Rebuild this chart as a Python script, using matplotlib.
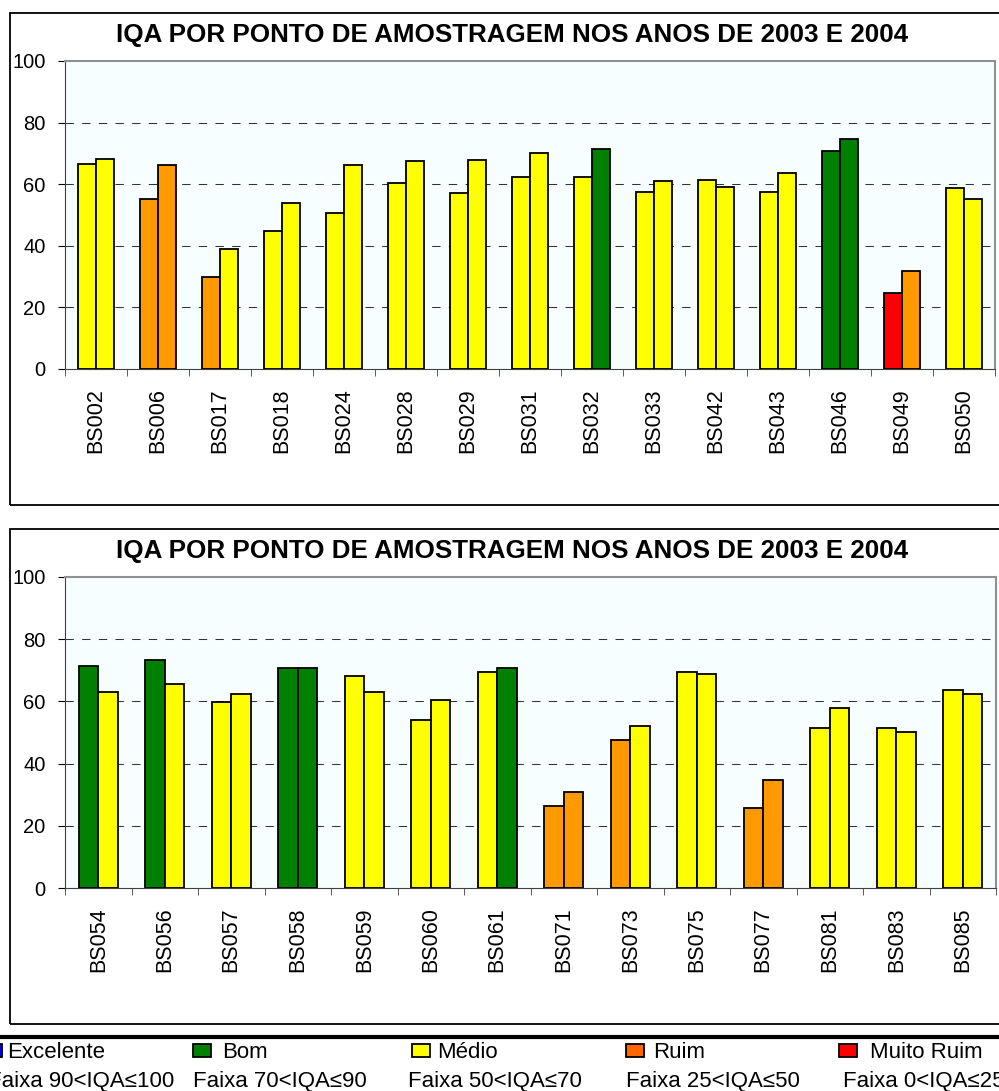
import matplotlib.pyplot as plt
from matplotlib.patches import Rectangle
from matplotlib.lines import Line2D

plt.rcParams['font.family'] = ['Liberation Sans', 'DejaVu Sans']

AMARELO = '#FFFF00'
VERDE = '#008000'
LARANJA = '#FF9900'
VERMELHO = '#FF0000'

# Grafico 1
pontos1 = ['BS002', 'BS006', 'BS017', 'BS018', 'BS024', 'BS028', 'BS029', 'BS031',
           'BS032', 'BS033', 'BS042', 'BS043', 'BS046', 'BS049', 'BS050']
iqa2003_1 = [66.7, 55.1, 29.8, 44.8, 50.6, 60.3, 57.1, 62.3, 62.3, 57.6, 61.5, 57.6, 70.7, 24.6, 58.9]
iqa2004_1 = [68.1, 66.3, 38.9, 53.8, 66.3, 67.5, 68.0, 70.1, 71.4, 61.0, 59.0, 63.6, 74.6, 31.7, 55.1]
cores2003_1 = [AMARELO, LARANJA, LARANJA, AMARELO, AMARELO, AMARELO, AMARELO, AMARELO,
               AMARELO, AMARELO, AMARELO, AMARELO, VERDE, VERMELHO, AMARELO]
cores2004_1 = [AMARELO, LARANJA, AMARELO, AMARELO, AMARELO, AMARELO, AMARELO, AMARELO,
               VERDE, AMARELO, AMARELO, AMARELO, VERDE, LARANJA, AMARELO]

# Grafico 2
pontos2 = ['BS054', 'BS056', 'BS057', 'BS058', 'BS059', 'BS060', 'BS061', 'BS071',
           'BS073', 'BS075', 'BS077', 'BS081', 'BS083', 'BS085']
iqa2003_2 = [71.5, 73.3, 59.8, 70.7, 68.3, 54.0, 69.3, 26.4, 47.6, 69.5, 25.7, 51.4, 51.4, 63.7]
iqa2004_2 = [63.0, 65.6, 62.4, 70.7, 63.0, 60.4, 70.6, 30.9, 52.1, 68.8, 34.7, 57.9, 50.1, 62.4]
cores2003_2 = [VERDE, VERDE, AMARELO, VERDE, AMARELO, AMARELO, AMARELO, LARANJA,
               LARANJA, AMARELO, LARANJA, AMARELO, AMARELO, AMARELO]
cores2004_2 = [AMARELO, AMARELO, AMARELO, VERDE, AMARELO, AMARELO, VERDE, LARANJA,
               AMARELO, AMARELO, LARANJA, AMARELO, AMARELO, AMARELO]

# Legenda
classes = ['Excelente', 'Bom', 'Médio', 'Ruim', 'Muito Ruim']
faixas = ['Faixa 90<IQA≤100', 'Faixa 70<IQA≤90', 'Faixa 50<IQA≤70',
          'Faixa 25<IQA≤50', 'Faixa 0<IQA≤25']
cores_legenda = ['#0000FF', VERDE, AMARELO, '#FF6600', VERMELHO]

titulo = 'IQA POR PONTO DE AMOSTRAGEM NOS ANOS DE 2003 E 2004'

W, H = 999, 1091
fig = plt.figure(figsize=(W / 100, H / 100), dpi=100)


def px(x0, y0, x1, y1):
    # caixa em pixels -> fracao da figura
    return [x0 / W, 1 - y1 / H, (x1 - x0) / W, (y1 - y0) / H]


def grafico(ax, pontos, v03, v04, c03, c04):
    n = len(pontos)
    xs = list(range(n))
    ax.set_facecolor('#F7FEFF')
    larg = 0.29
    ax.bar([x - larg / 2 for x in xs], v03, width=larg, color=c03,
           edgecolor='black', linewidth=1.3, zorder=3)
    ax.bar([x + larg / 2 for x in xs], v04, width=larg, color=c04,
           edgecolor='black', linewidth=1.3, zorder=3)
    ax.set_xlim(-0.5, n - 0.5)
    ax.set_ylim(0, 100)
    ax.set_yticks([0, 20, 40, 60, 80, 100])
    ax.set_xticks(xs)
    ax.set_xticklabels(pontos, rotation=90, fontsize=15.5)
    ax.set_xticks([x + 0.5 for x in range(-1, n)], minor=True)
    ax.tick_params(axis='x', which='major', length=0, pad=14)
    ax.tick_params(axis='x', which='minor', length=5, direction='out', color='#404040')
    ax.tick_params(axis='y', length=5, direction='out', pad=9, labelsize=14.5)
    for v in [20, 40, 60, 80]:
        ax.axhline(v, color='#333333', linewidth=0.75, dashes=(8, 8), zorder=1)
    ax.spines['top'].set_color('#909090')
    ax.spines['right'].set_color('#909090')
    ax.spines['top'].set_linewidth(1.5)
    ax.spines['right'].set_linewidth(1.5)
    ax.spines['left'].set_color('#404040')
    ax.spines['bottom'].set_color('#404040')


# Moldura dos graficos
fig.patches.append(Rectangle((10 / W, 1 - 505 / H), 1000 / W, 492 / H, transform=fig.transFigure,
                             fill=False, edgecolor='black', linewidth=1.3))
fig.patches.append(Rectangle((10 / W, 1 - 1024 / H), 1000 / W, 495 / H, transform=fig.transFigure,
                             fill=False, edgecolor='black', linewidth=1.3))

ax1 = fig.add_axes(px(65, 61, 995, 369))
grafico(ax1, pontos1, iqa2003_1, iqa2004_1, cores2003_1, cores2004_1)
fig.text(512 / W, 1 - 35 / H, titulo, ha='center', va='center', fontsize=18.7, fontweight='bold')

ax2 = fig.add_axes(px(65, 577, 996, 888))
grafico(ax2, pontos2, iqa2003_2, iqa2004_2, cores2003_2, cores2004_2)
fig.text(512 / W, 1 - 551 / H, titulo, ha='center', va='center', fontsize=18.7, fontweight='bold')

# linha grossa acima da legenda
fig.lines.append(Line2D([0, 1], [1 - 1037 / H, 1 - 1037 / H], transform=fig.transFigure,
                        color='black', linewidth=3))

# Legenda manual
quad_x = [-16, 193, 412, 626, 839]
texto_x = [7, 222, 437, 653, 870]
faixa_x = [-12, 193, 408, 626, 843]
for i in range(len(classes)):
    fig.patches.append(Rectangle((quad_x[i] / W, 1 - 1057 / H), 18 / W, 13 / H,
                                 transform=fig.transFigure, facecolor=cores_legenda[i],
                                 edgecolor='black', linewidth=1.3))
    fig.text(texto_x[i] / W, 1 - 1052 / H, classes[i], ha='left', va='center', fontsize=16)
    fig.text(faixa_x[i] / W, 1 - 1081 / H, faixas[i], ha='left', va='center', fontsize=16)

fig.savefig('out.png', dpi=100)
